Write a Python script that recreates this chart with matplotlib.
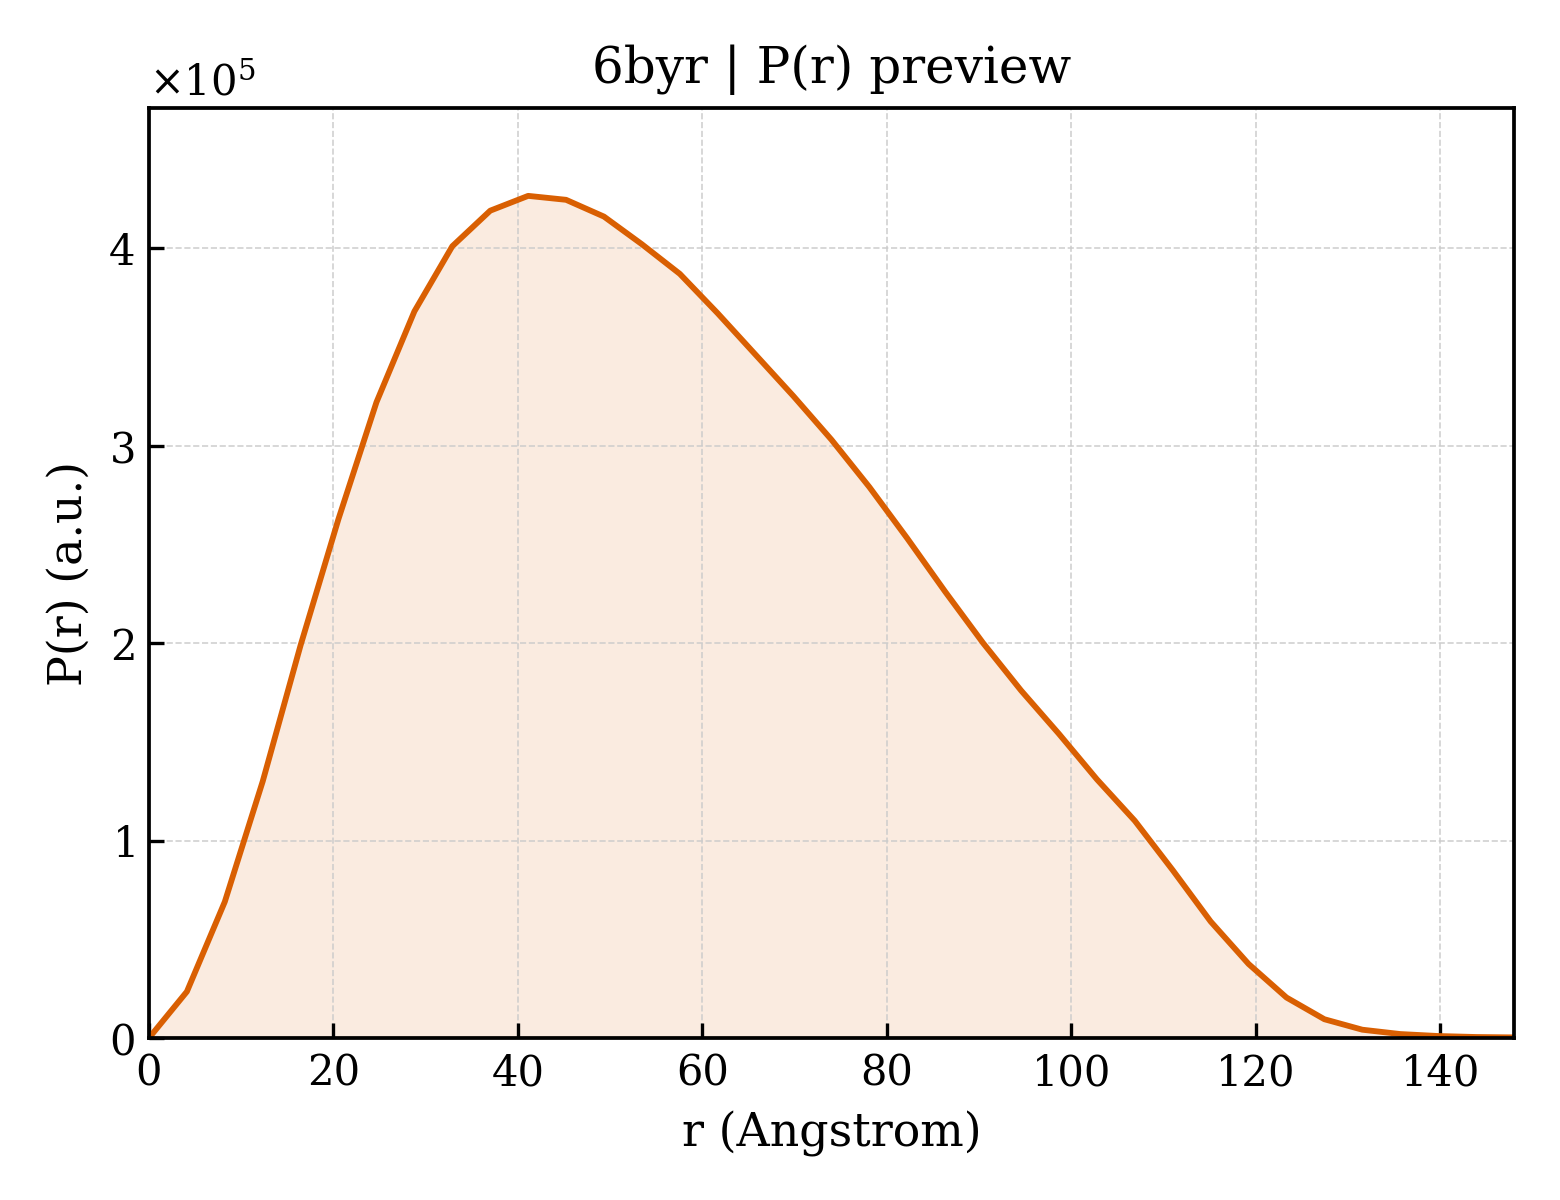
import numpy as np
import matplotlib
matplotlib.use("Agg")
import matplotlib.pyplot as plt
from matplotlib.ticker import ScalarFormatter

r_max = 148.0
n_points = 37
pr_values = [0.0, 0.235, 0.69, 1.30, 1.99, 2.63, 3.22, 3.68, 4.01, 4.19, 4.265, 4.245,
             4.16, 4.02, 3.87, 3.67, 3.46, 3.25, 3.03, 2.79, 2.53, 2.26, 2.00, 1.76,
             1.54, 1.31, 1.10, 0.85, 0.59, 0.375, 0.205, 0.095, 0.042, 0.02, 0.01,
             0.005, 0.003]
scale = 1e5

r = np.linspace(0, r_max, n_points)
pr = np.array(pr_values) * scale

plt.rcParams['font.family'] = ['DejaVu Serif']
plt.rcParams['mathtext.fontset'] = 'dejavuserif'

fig = plt.figure(figsize=(5.2, 4.0), dpi=300)
ax = fig.add_axes([0.0955, 0.135, 0.875, 0.775])

color = '#D95F02'
ax.fill_between(r, pr, 0, color=color, alpha=0.12, linewidth=0)
ax.plot(r, pr, color=color, linewidth=1.4)

ax.set_xlim(0, r_max)
ax.set_ylim(0, 4.71e5)
ax.set_xticks(np.arange(0, 141, 20))
ax.set_yticks(np.arange(0, 5, 1) * scale)

fmt = ScalarFormatter(useMathText=True)
fmt.set_powerlimits((0, 0))
ax.yaxis.set_major_formatter(fmt)

ax.grid(True, linestyle='--', linewidth=0.4, color='#cccccc', alpha=0.9)
ax.tick_params(direction='in', length=3.5, width=0.8, labelsize=10)
for s in ax.spines.values():
    s.set_linewidth(0.9)

ax.set_xlabel('r (Angstrom)', fontsize=11)
ax.set_ylabel('P(r) (a.u.)', fontsize=11)
ax.set_title('6byr | P(r) preview', fontsize=12)
ax.yaxis.get_offset_text().set_fontsize(10)

fig.savefig('out.png', dpi=300)
